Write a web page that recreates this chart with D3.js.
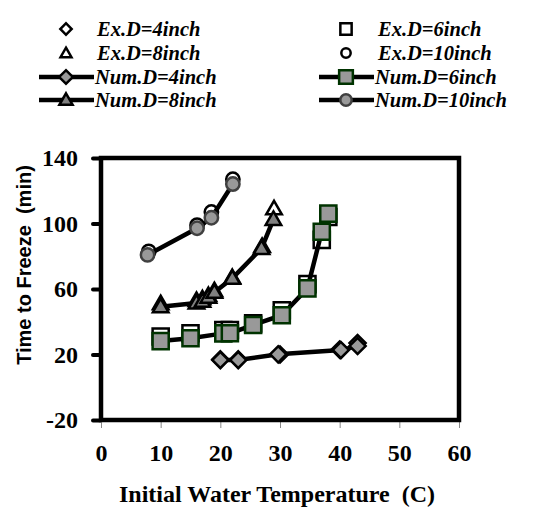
<!DOCTYPE html>
<html><head><meta charset="utf-8">
<script src="https://cdn.jsdelivr.net/npm/d3@7"></script>
<style>body{margin:0;background:#fff} text{white-space:pre}</style>
</head><body>
<svg id="c" width="541" height="518"></svg>
<script>
// ---- data ----
const xTicks = [0,10,20,30,40,50,60];
const yTicks = [-20,20,60,100,140];

const ex4x = [20,23,30,40,43],            ex4y = [17,17,20,23,27];
const num4x = [20,23,29.7,40.2,43],       num4y = [16.6,16.6,20.1,22.7,25.2];
const ex6x = [10,15,20.5,21.6,25.5,30.3,34.6,37,38.1], ex6y = [31,33,35,35,39,47,63,90,104];
const num6x = [10,15,20.5,21.6,25.5,30.3,34.6,37,38.1], num6y = [28.2,29.9,32.9,33,38,44,60.4,95,106];
const ex8x = [10,16,17,18,19,22,27,29],   ex8y = [51,53,54,56,59,67,86,109];
const num8x = [10,16,17,18,19,22,26.9,28.9], num8y = [49.2,51.5,52.5,55,58,66.5,84.8,102.5];
const ex10x = [8,16.1,18.5,22.1],         ex10y = [83,99,107,127];
const num10x = [7.8,16.1,18.5,22.1],      num10y = [80.8,97.1,103.5,124.1];

const legendLabels = ["Ex.D=4inch","Ex.D=6inch","Ex.D=8inch","Ex.D=10inch",
                      "Num.D=4inch","Num.D=6inch","Num.D=8inch","Num.D=10inch"];

// ---- drawing ----
const svg = d3.select("#c");
const x = d3.scaleLinear().domain([0,60]).range([101,459]);
const y = d3.scaleLinear().domain([-20,140]).range([420,158]);
const serif = "'Liberation Serif','Times New Roman',serif";

const sym = {
  diamond: d3.symbol().type(d3.symbolSquare).size(130),
  square: d3.symbol().type(d3.symbolSquare).size(260),
  triangle: d3.symbol().type(d3.symbolTriangle).size(105),
  circle: d3.symbol().type(d3.symbolCircle).size(140)
};
function marker(g, type, cx, cy, fill, stroke, sw, scale) {
  scale = scale || 1;
  const rot = type === "diamond" ? " rotate(45)" : "";
  const dy = type === "triangle" ? 1 : 0;
  g.append("path").attr("d", sym[type]())
    .attr("transform", `translate(${cx},${cy+dy}) scale(${scale})${rot}`)
    .attr("fill", fill).attr("stroke", stroke).attr("stroke-width", sw/scale)
    .attr("stroke-linejoin","miter");
}

// axes
const yAxis = d3.axisLeft(y).tickValues(yTicks).tickSize(8).tickPadding(15).tickFormat(d => String(d));
const ya = svg.append("g").attr("transform","translate(101,0)").call(yAxis);
ya.select(".domain").remove();
ya.selectAll(".tick line").attr("stroke","#000").attr("stroke-width",4).attr("stroke-linecap","round");
ya.selectAll(".tick text").attr("font-family",serif)
  .attr("font-weight","bold").attr("font-size",24).attr("fill","#000").attr("dy","0.33em");

const xAxis = d3.axisBottom(x).tickValues(xTicks).tickSize(8).tickPadding(16).tickFormat(d => String(d));
const xa = svg.append("g").attr("transform","translate(0,420)").call(xAxis);
xa.select(".domain").remove();
xa.selectAll(".tick line").attr("stroke","#888").attr("stroke-width",1);
xa.selectAll(".tick text").attr("font-family",serif)
  .attr("font-weight","bold").attr("font-size",24).attr("fill","#000");

// frame
svg.append("rect").attr("x",x(0)).attr("y",y(140)).attr("width",x(60)-x(0)).attr("height",y(-20)-y(140))
  .attr("fill","none").attr("stroke","#000").attr("stroke-width",4.5);

// titles
svg.append("text").attr("x",277).attr("y",502).attr("text-anchor","middle")
  .attr("font-family",serif).attr("font-weight","bold").attr("font-size",24)
  .text("Initial Water Temperature  (C)");
svg.append("text").attr("transform","translate(31,265) rotate(-90)").attr("text-anchor","middle")
  .attr("font-family","'Liberation Sans',Arial,sans-serif").attr("font-weight","bold").attr("font-size",20)
  .text("Time to Freeze  (min)");

// series
const series = [
  {xs:num10x, ys:num10y, ex:[ex10x,ex10y], type:"circle", fill:"#999", stroke:"#404040"},
  {xs:num8x, ys:num8y, ex:[ex8x,ex8y], type:"triangle", fill:"#808080", stroke:"#000"},
  {xs:num6x, ys:num6y, ex:[ex6x,ex6y], type:"square", fill:"#999", stroke:"#003300"},
  {xs:num4x, ys:num4y, ex:[ex4x,ex4y], type:"diamond", fill:"#999", stroke:"#000"}
];
const plot = svg.append("g");
const line = d3.line().x(d=>x(d[0])).y(d=>y(d[1]));
series.forEach(s => {
  s.ex[0].forEach((v,i) => marker(plot, s.type, x(v), y(s.ex[1][i]), "#fff", "#000", 2.5));
});
series.forEach(s => {
  plot.append("path").datum(d3.zip(s.xs, s.ys)).attr("d", line)
    .attr("fill","none").attr("stroke","#000").attr("stroke-width",4.5);
});
series.forEach(s => {
  s.xs.forEach((v,i) => marker(plot, s.type, x(v), y(s.ys[i]), s.fill, s.stroke, 2.5));
});

// legend
const leg = svg.append("g");
const legTypes = ["diamond","square","triangle","circle"];
const legFill = ["#999","#999","#808080","#999"];
const legStroke = ["#000","#003300","#000","#404040"];
const rowsY = [29,53,77,100];
legendLabels.forEach((lab,i) => {
  const k = i % 4;
  const isNum = i >= 4;
  const col = k % 2;
  const row = Math.floor(k/2) + (isNum ? 2 : 0);
  const mx = col === 0 ? 66 : 346;
  const tx = col === 0 ? 97 : 378;
  const yy = rowsY[row];
  if (isNum) {
    leg.append("line").attr("x1",mx-27).attr("x2",mx+28).attr("y1",yy).attr("y2",yy)
      .attr("stroke","#000").attr("stroke-width",4.5);
    marker(leg, legTypes[k], mx, yy, legFill[k], legStroke[k], 2.5, 0.85);
  } else {
    marker(leg, legTypes[k], mx, yy, "#fff", "#000", 2.5, 0.7);
  }
  leg.append("text").attr("x", isNum ? mx+29 : tx).attr("y", yy).attr("dy","0.33em")
    .attr("font-family",serif).attr("font-weight","bold")
    .attr("font-style","italic").attr("font-size",20.5).text(lab);
});
</script>
</body></html>
